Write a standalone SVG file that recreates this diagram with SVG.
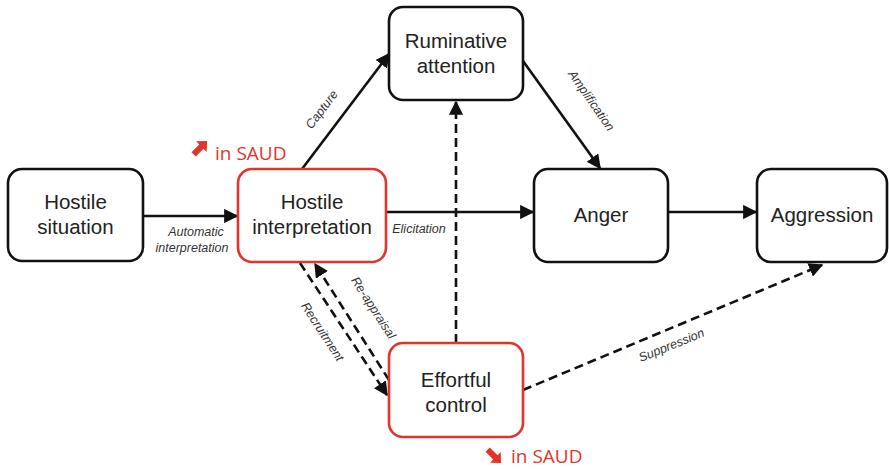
<svg xmlns="http://www.w3.org/2000/svg" width="889" height="469" viewBox="0 0 889 469">
<defs>
<style>
.node{fill:#fff;stroke:#111;stroke-width:2.6}
.red{stroke:#e3342a}
.nt{font-family:"Liberation Sans",Arial,sans-serif;font-size:20.5px;fill:#222;text-anchor:middle}
.lbl{font-family:"Liberation Sans",Arial,sans-serif;font-size:12.5px;font-style:italic;fill:#333;text-anchor:middle}
.ln{fill:none;stroke:#111;stroke-width:2.6}
.dash{stroke-dasharray:9 5}
.saud{font-family:"Open Sans","Liberation Sans",sans-serif;font-size:19px;fill:#e3342a}
</style>
<marker id="ah" viewBox="0 0 10 10" refX="9" refY="5" markerWidth="5.5" markerHeight="5.5" markerUnits="strokeWidth" orient="auto">
<path d="M0,0 L10,5 L0,10 z" fill="#111"/>
</marker>
</defs>
<rect width="889" height="469" fill="#fff"/>
<g id="connectors">
<line class="ln" x1="143" y1="216" x2="237" y2="216" marker-end="url(#ah)"/>
<line class="ln" x1="387" y1="212" x2="533" y2="212" marker-end="url(#ah)"/>
<line class="ln" x1="668" y1="212" x2="756" y2="212" marker-end="url(#ah)"/>
<line class="ln" x1="302" y1="169" x2="389" y2="54" marker-end="url(#ah)"/>
<line class="ln" x1="523" y1="61" x2="600" y2="168" marker-end="url(#ah)"/>
<line class="ln dash" x1="456" y1="343" x2="456" y2="102" marker-end="url(#ah)"/>
<line class="ln dash" x1="300" y1="263" x2="387" y2="395" marker-end="url(#ah)"/>
<line class="ln dash" x1="389" y1="380" x2="315" y2="264" marker-end="url(#ah)"/>
<line class="ln dash" x1="523" y1="390" x2="822" y2="265" marker-end="url(#ah)"/>
<text class="lbl" x="196" y="236">Automatic</text>
<text class="lbl" x="192" y="252">interpretation</text>
<text class="lbl" x="419" y="233">Elicitation</text>
<text class="lbl" transform="translate(325,112) rotate(-53)">Capture</text>
<text class="lbl" transform="translate(588,103) rotate(55)">Amplification</text>
<text class="lbl" transform="translate(319,334) rotate(57)">Recruitment</text>
<text class="lbl" transform="translate(370,310) rotate(57)">Re-appraisal</text>
<text class="lbl" transform="translate(673,349) rotate(-22)">Suppression</text>
</g>
<g id="hostile-situation">
<rect class="node" x="8" y="169" width="135" height="92" rx="14"/>
<text class="nt" x="75.5" y="209">Hostile</text>
<text class="nt" x="75.5" y="234">situation</text>
</g>
<g id="hostile-interpretation">
<rect class="node red" x="238" y="169" width="148" height="93" rx="14"/>
<text class="nt" x="312" y="209">Hostile</text>
<text class="nt" x="312" y="234">interpretation</text>
</g>
<g id="ruminative-attention">
<rect class="node" x="389" y="7" width="134" height="93" rx="14"/>
<text class="nt" x="456" y="48">Ruminative</text>
<text class="nt" x="456" y="73">attention</text>
</g>
<g id="anger">
<rect class="node" x="534" y="169" width="134" height="93" rx="14"/>
<text class="nt" x="601" y="222">Anger</text>
</g>
<g id="aggression">
<rect class="node" x="757" y="169" width="130" height="93" rx="14"/>
<text class="nt" x="822" y="222">Aggression</text>
</g>
<g id="effortful-control">
<rect class="node red" x="389" y="343" width="134" height="94" rx="14"/>
<text class="nt" x="456" y="387">Effortful</text>
<text class="nt" x="456" y="412">control</text>
</g>
<g id="saud-up">
<g transform="translate(200,148) rotate(-45)">
<polygon points="-9,-3 2,-3 2,-7.5 10,0 2,7.5 2,3 -9,3" fill="#e3342a"/>
</g>
<text class="saud" x="215" y="160">in SAUD</text>
</g>
<g id="saud-down">
<g transform="translate(494,456) rotate(45)">
<polygon points="-9,-3 2,-3 2,-7.5 10,0 2,7.5 2,3 -9,3" fill="#e3342a"/>
</g>
<text class="saud" x="511" y="463">in SAUD</text>
</g>
</svg>
